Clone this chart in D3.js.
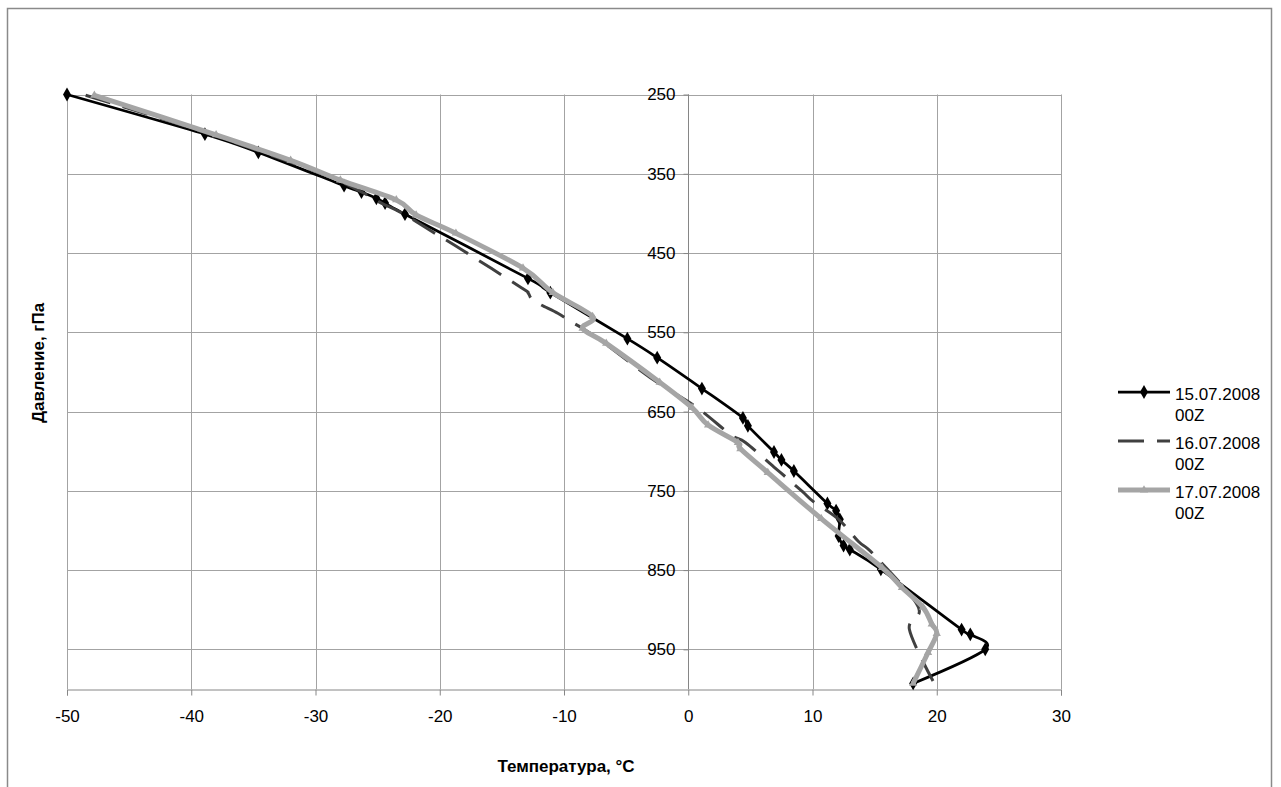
<!DOCTYPE html>
<html>
<head>
<meta charset="utf-8">
<script src="https://cdn.jsdelivr.net/npm/d3@7"></script>
<style>
  body { margin: 0; background: #fff; }
  text { font-family: "Liberation Sans", Arial, sans-serif; }
</style>
</head>
<body>
<svg id="chart" width="1281" height="787"></svg>
<script>
// data: pressure (hPa) and temperature (°C) per sounding
const seriesNames = ["15.07.2008 00Z", "16.07.2008 00Z", "17.07.2008 00Z"];

const p1 = [250, 300, 323, 365, 373, 381, 387, 401, 482, 500, 558, 582, 621, 658, 668, 701, 711, 725, 766, 775, 786, 807, 819, 824, 849, 925, 931, 950, 993];
const t1 = [-50.0, -38.9, -34.6, -27.7, -26.3, -25.1, -24.4, -22.8, -12.9, -11.1, -4.9, -2.5, 1.1, 4.4, 4.8, 6.9, 7.5, 8.5, 11.2, 11.9, 12.2, 12.1, 12.5, 13.0, 15.5, 22.0, 22.7, 23.9, 18.1];

const p2 = [251, 300, 350, 373, 387, 400, 424, 448, 494, 500, 508, 515, 526, 536, 545, 562, 610, 645, 679, 689, 720, 732, 751, 764, 786, 814, 830, 896, 925, 990];
const t2 = [-48.5, -38.5, -29.5, -26.3, -24.7, -23.0, -20.5, -18.0, -13.4, -12.9, -12.6, -11.9, -10.5, -9.5, -8.5, -6.9, -2.8, 0.7, 3.4, 4.6, 6.9, 7.8, 9.2, 10.1, 12.1, 13.7, 14.9, 18.5, 17.8, 19.7];

const p3 = [251, 301, 333, 358, 383, 402, 425, 469, 500, 530, 545, 564, 613, 645, 667, 689, 697, 727, 785, 847, 872, 897, 918, 930, 954, 993];
const t3 = [-47.8, -38.0, -32.0, -28.0, -23.5, -21.9, -18.7, -13.3, -10.9, -7.7, -8.5, -6.6, -2.3, 0.3, 1.6, 4.0, 4.2, 6.4, 10.7, 15.6, 17.2, 18.9, 19.6, 20.0, 19.3, 18.1];

const xTicks = [-50, -40, -30, -20, -10, 0, 10, 20, 30];
const yTicks = [250, 350, 450, 550, 650, 750, 850, 950];

const svg = d3.select("#chart");

// рамка области диаграммы
svg.append("rect")
    .attr("x", 7.5).attr("y", 8.5)
    .attr("width", 1264).attr("height", 800)
    .attr("fill", "#fff")
    .attr("stroke", "#8a8a8a")
    .attr("stroke-width", 1.5);

let x = d3.scaleLinear().domain([-50, 30]).range([67, 1061]);
let y = d3.scaleLinear().domain([250, 1000]).range([94.5, 689]);

const gridColor = "#a3a3a3";
const fontCss = "Liberation Sans, Arial, sans-serif";

// сетка
svg.append("g").selectAll("line")
    .data(xTicks).enter().append("line")
    .attr("x1", d => Math.round(x(d)) + 0.5).attr("x2", d => Math.round(x(d)) + 0.5)
    .attr("y1", y(250)).attr("y2", y(1000))
    .attr("stroke", gridColor);

svg.append("g").selectAll("line")
    .data(yTicks).enter().append("line")
    .attr("x1", x(-50)).attr("x2", x(30))
    .attr("y1", d => Math.round(y(d)) + 0.5).attr("y2", d => Math.round(y(d)) + 0.5)
    .attr("stroke", gridColor);

// ось X внизу
let axisX = d3.axisBottom(x).tickValues(xTicks).tickSize(6).tickPadding(14).tickFormat(d => String(d));
let gx = svg.append("g")
    .attr("transform", `translate(0, ${Math.round(y(1000)) + 0.5})`)
    .call(axisX);
gx.select(".domain").attr("stroke", "#868686");
gx.selectAll(".tick line").attr("stroke", "#868686");
gx.selectAll("text").attr("font-size", 17).attr("fill", "#000").style("font-family", fontCss);

// ось Y пересекает в 0 °C
let axisY = d3.axisLeft(y).tickValues(yTicks).tickSize(5).tickPadding(8).tickFormat(d => String(d));
let gy = svg.append("g")
    .attr("transform", `translate(${Math.round(x(0)) + 0.5}, 0)`)
    .call(axisY);
gy.select(".domain").attr("stroke", "#868686").attr("d", `M0,${y(250)}V${y(1000)}`);
gy.selectAll(".tick line").attr("stroke", "#868686");
gy.selectAll("text").attr("font-size", 17).attr("fill", "#000").style("font-family", fontCss);

// подписи осей
svg.append("text")
    .attr("x", 566).attr("y", 772)
    .attr("text-anchor", "middle")
    .attr("font-size", 17).attr("font-weight", "bold")
    .text("Температура, °С");

svg.append("text")
    .attr("transform", "translate(44, 363) rotate(-90)")
    .attr("text-anchor", "middle")
    .attr("font-size", 17).attr("font-weight", "bold")
    .text("Давление, гПа");

// ряды
let makeData = (ps, ts) => ps.map((p, i) => ({ p: p, t: ts[i] }));

let line = d3.line()
    .x(d => x(d.t))
    .y(d => y(d.p))
    .curve(d3.curveCardinal.tension(0));

let diamond = d3.symbol().type(d3.symbolDiamond).size(55);
let triangle = d3.symbol().type(d3.symbolTriangle).size(30);

const styles = [
    { color: "#000000", width: 2.75, dash: null, marker: diamond },
    { color: "#404040", width: 3, dash: "26 13", marker: null },
    { color: "#a5a5a5", width: 5, dash: null, marker: triangle }
];

const allData = [makeData(p1, t1), makeData(p2, t2), makeData(p3, t3)];

allData.forEach((data, i) => {
    let st = styles[i];
    svg.append("path")
        .datum(data)
        .attr("d", line)
        .attr("fill", "none")
        .attr("stroke", st.color)
        .attr("stroke-width", st.width)
        .attr("stroke-dasharray", st.dash)
        .attr("stroke-linejoin", "round");
    if (st.marker) {
        svg.append("g").selectAll("path")
            .data(data).enter().append("path")
            .attr("d", st.marker)
            .attr("transform", d => `translate(${x(d.t)}, ${y(d.p)})`)
            .attr("fill", st.color);
    }
});

// легенда
const legendRows = [394, 443, 492];
seriesNames.forEach((name, i) => {
    let st = styles[i];
    let cy = legendRows[i] - 2;
    let g = svg.append("g");
    g.append("line")
        .attr("x1", 1118).attr("x2", 1170)
        .attr("y1", cy).attr("y2", cy)
        .attr("stroke", st.color)
        .attr("stroke-width", st.width)
        .attr("stroke-dasharray", st.dash);
    if (st.marker) {
        g.append("path")
            .attr("d", st.marker)
            .attr("transform", `translate(1144, ${cy})`)
            .attr("fill", st.color);
    }
    let parts = name.split(" ");
    let txt = g.append("text")
        .attr("x", 1175).attr("y", legendRows[i] + 6)
        .attr("font-size", 17);
    txt.append("tspan").attr("x", 1175).text(parts[0]);
    txt.append("tspan").attr("x", 1175).attr("dy", 21).text(parts[1]);
});
</script>
</body>
</html>
